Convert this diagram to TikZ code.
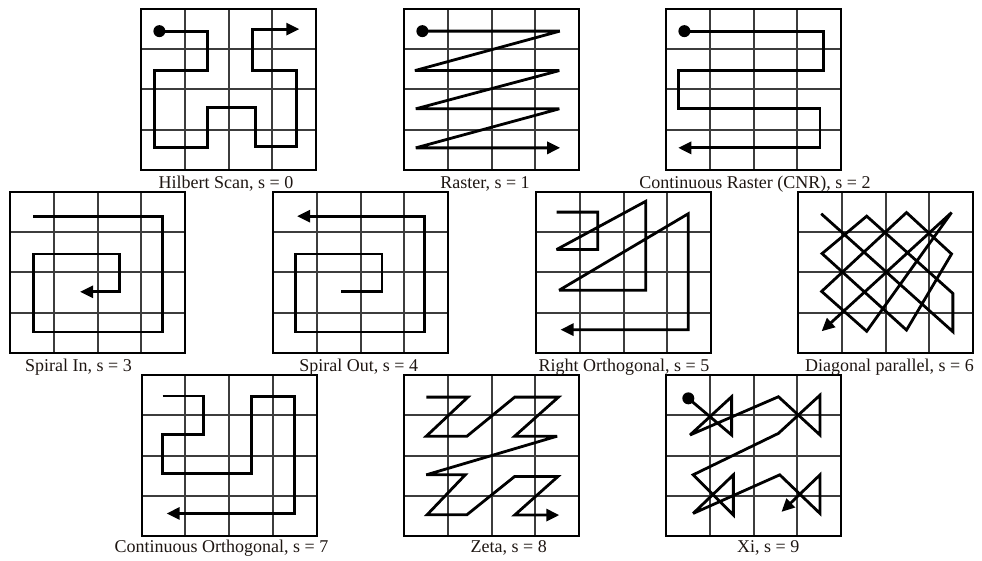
\documentclass[tikz,border=0pt]{standalone}
\usepackage{fontspec}
\setmainfont{Liberation Serif}
\usetikzlibrary{arrows.meta}
\definecolor{txt}{RGB}{30,22,18}
\definecolor{gin}{RGB}{60,60,60}
\newcommand\drawscangrid{%
  \draw[gridin] (1,0)--(1,4) (2,0)--(2,4) (3,0)--(3,4) (0,1)--(4,1) (0,2)--(4,2) (0,3)--(4,3);
  \draw[gridout] (0,0) rectangle (4,4);}
\tikzset{
  gridin/.style={gin, line width=2pt},
  gridout/.style={black, line width=2pt},
  scan/.style={black, line width=2.8pt, line join=miter, miter limit=3},
  scanarrow/.style={scan, -{Triangle[length=13pt,width=12pt]}},
  startdot/.style={black},
  lbl/.style={anchor=base, inner sep=0pt, text=txt, font=\fontsize{18}{20}\selectfont},
  cell/.style={x=43.75pt, y=-40.25pt}
}
\begin{document}
\begin{tikzpicture}[x=1pt, y=-1pt]
\useasboundingbox (0,0) rectangle (982,561);
% Hilbert
\begin{scope}[shift={(141,9)}, cell]
  \drawscangrid
  \draw[scanarrow] (0.42,0.55) -| (1.52,1.53) -| (0.3,3.45) -| (1.52,2.45) -| (2.62,3.42) -| (3.55,1.52) -| (2.55,0.5) -- (3.62,0.5);
  \fill[startdot] (0.42,0.55) circle[radius=6pt];
\end{scope}
% Raster
\begin{scope}[shift={(404,9)}, cell]
  \drawscangrid
  \draw[scanarrow] (0.42,0.55) -- (3.56,0.55) -- (0.25,1.53) -- (3.55,1.53) -- (0.27,2.48) -- (3.55,2.48) -- (0.27,3.45) -- (3.57,3.45);
  \fill[startdot] (0.42,0.55) circle[radius=6pt];
\end{scope}
% CNR
\begin{scope}[shift={(666,9)}, cell]
  \drawscangrid
  \draw[scanarrow] (0.42,0.55) -| (3.6,1.53) -| (0.28,2.47) -| (3.52,3.45) -- (0.28,3.45);
  \fill[startdot] (0.42,0.55) circle[radius=6pt];
\end{scope}
% Spiral In
\begin{scope}[shift={(10,192)}, cell]
  \drawscangrid
  \draw[scanarrow] (0.53,0.6) -| (3.48,3.48) -| (0.53,1.54) -| (2.5,2.48) -- (1.6,2.48);
\end{scope}
% Spiral Out
\begin{scope}[shift={(273,192)}, cell]
  \drawscangrid
  \draw[scanarrow] (1.56,2.48) -| (2.49,1.54) -| (0.51,3.48) -| (3.46,0.6) -- (0.55,0.6);
\end{scope}
% Right Orthogonal
\begin{scope}[shift={(536,192)}, cell]
  \drawscangrid
  \draw[scanarrow] (0.47,0.5) -| (1.41,1.43) -- (0.47,1.43) -- (2.51,0.23) -- (2.51,2.44) -- (0.53,2.44) -- (3.48,0.54) -- (3.48,3.42) -- (0.56,3.42);
\end{scope}
% Diagonal parallel
\begin{scope}[shift={(798,192)}, cell]
  \drawscangrid
  \draw[scanarrow] (0.53,0.54) -- (3.54,3.47) -- (3.54,2.52) -- (1.57,0.6) -- (0.55,1.53) -- (2.48,3.43) -- (3.51,1.54) -- (2.48,0.51) -- (0.54,2.47) -- (1.57,3.46) -- (3.51,0.51) -- (0.54,3.46);
\end{scope}
% Continuous Orthogonal
\begin{scope}[shift={(141.7,375)}, cell]
  \drawscangrid
  \draw[scanarrow] (0.48,0.52) -| (1.41,1.47) -| (0.48,2.44) -| (2.51,0.54) -| (3.5,3.44) -- (0.57,3.44);
\end{scope}
% Zeta
\begin{scope}[shift={(404,375)}, cell]
  \drawscangrid
  \draw[scanarrow] (0.51,0.55) -- (1.46,0.55) -- (0.51,1.52) -- (1.44,1.52) -- (2.53,0.55) -- (3.53,0.55) -- (2.53,1.52) -- (3.5,1.52) -- (0.51,2.48) -- (1.4,2.48) -- (0.53,3.47) -- (1.44,3.47) -- (2.53,2.52) -- (3.52,2.52) -- (2.53,3.48) -- (3.55,3.48);
\end{scope}
% Xi
\begin{scope}[shift={(666,375)}, cell]
  \drawscangrid
  \draw[scanarrow] (0.51,0.58) -- (1.5,1.49) -- (1.5,0.54) -- (0.55,1.49) -- (2.57,0.54) -- (3.52,1.49) -- (3.52,0.5) -- (2.57,1.45) -- (0.62,2.48) -- (1.54,3.48) -- (1.54,2.48) -- (0.62,3.44) -- (2.6,2.48) -- (3.52,3.44) -- (3.52,2.48) -- (2.64,3.4);
  \fill[startdot] (0.51,0.58) circle[radius=6pt];
\end{scope}
% labels
\node[lbl] (l0) at (226,188.5) {Hilbert Scan, s = 0};
\node[lbl] (l1) at (485,188.5) {Raster, s = 1};
\node[lbl] (l2) at (755,188.5) {Continuous Raster (CNR), s = 2};
\node[lbl] (l3) at (78.5,371.5) {Spiral In, s = 3};
\node[lbl] (l4) at (358.7,371.5) {Spiral Out, s = 4};
\node[lbl] (l5) at (624,371.5) {Right Orthogonal, s = 5};
\node[lbl] (l6) at (889.5,371.5) {Diagonal parallel, s = 6};
\node[lbl] (l7) at (221.5,552.5) {Continuous Orthogonal, s = 7};
\node[lbl] (l8) at (508.8,552.5) {Zeta, s = 8};
\node[lbl] (l9) at (768.3,552.5) {Xi, s = 9};
\end{tikzpicture}
\end{document}
